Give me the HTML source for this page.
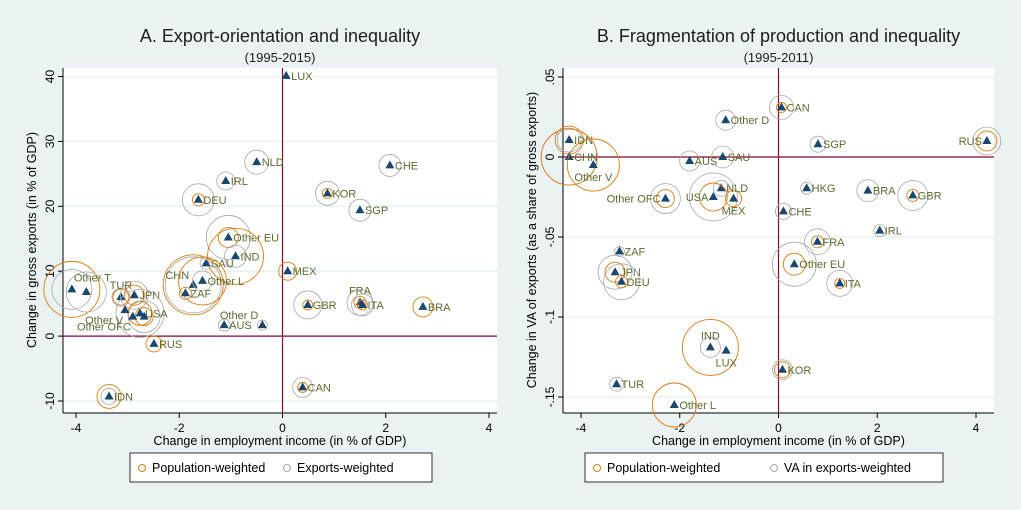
<!DOCTYPE html>
<html><head><meta charset="utf-8">
<style>
body{margin:0;background:#eaf2f3;}
svg{display:block;font-family:"Liberation Sans",Arial,sans-serif;}
</style></head>
<body>
<svg id="c" width="1021" height="510"></svg>
<script>
// Panel A data
const namesA=["LUX","NLD","IRL","DEU","KOR","CHE","SGP","Other EU","IND","SAU","MEX","CHN","Other L","ZAF","Other T","","TUR","JPN","USA","","Other V","Other OFC","AUS","Other D","GBR","FRA","ITA","BRA","RUS","CAN","IDN"];
const xA=[0.07,-0.5,-1.1,-1.63,0.87,2.08,1.5,-1.05,-0.91,-1.48,0.1,-1.73,-1.55,-1.88,-4.08,-3.8,-3.13,-2.87,-2.76,-2.68,-3.05,-2.9,-1.13,-0.39,0.49,1.5,1.55,2.72,-2.49,0.39,-3.36];
const yA=[40.1,26.8,23.9,21,22,26.3,19.4,15.2,12.3,11.2,10,7.9,8.5,6.6,7.2,6.8,6,6.3,3.5,3,4,3,1.7,1.7,4.8,5.2,4.8,4.5,-1.2,-7.9,-9.3];
const popA=[0,0,0,6,5,0,0,10,28,0,9,30,24,6,28,0,8,10,12,9,0,0,0,0,5,6,5,10,8,5,12];
const expA=[0,12,9,16,12,11,11,22,11,6,0,28,10,0,20,20,9,14,24,16,0,0,6,5,14,13,11,0,0,10,8];
const posA=["r","r","r","r","r","r","r","r","r","r","r","tl","r","r","tr","","t","r","r","","bl","bl","r","tl","r","t","r","r","r","r","r"];
// Panel B data
const namesB=["CAN","Other D","IDN","CHN","Other V","RUS","SGP","AUS","SAU","NLD","USA","MEX","Other OFC","HKG","BRA","GBR","CHE","IRL","FRA","Other EU","ITA","ZAF","JPN","DEU","IND","LUX","KOR","TUR","Other L"];
const xB=[0.06,-1.07,-4.24,-4.24,-3.75,4.22,0.8,-1.8,-1.13,-1.16,-1.32,-0.91,-2.29,0.57,1.81,2.72,0.1,2.05,0.79,0.32,1.24,-3.22,-3.31,-3.18,-1.38,-1.06,0.08,-3.28,-2.11];
const yB=[0.031,0.023,0.0106,0,-0.005,0.01,0.008,-0.0025,0,-0.0195,-0.025,-0.026,-0.026,-0.0195,-0.021,-0.024,-0.034,-0.046,-0.053,-0.067,-0.079,-0.059,-0.072,-0.078,-0.119,-0.121,-0.133,-0.142,-0.155];
const popB=[5,0,14,28,26,10,0,0,0,0,14,8,9,0,0,6,0,0,6,11,5,0,10,6,28,0,8,0,22];
const expB=[12,10,12,28,0,14,8,10,11,8,24,0,15,6,11,15,8,6,13,22,13,5,17,18,10,0,10,7,0];
const posB=["r","r","r","r","b","l","r","r","r","r","l","b","l","r","r","r","r","r","r","r","r","r","r","r","t","b","r","r","r"];

const NS="http://www.w3.org/2000/svg";
const svg=document.getElementById('c');
function mk(tag,attrs,parent,text){const e=document.createElementNS(NS,tag);for(const k in attrs)e.setAttribute(k,attrs[k]);if(text!==undefined)e.textContent=text;(parent||svg).appendChild(e);return e;}

function panel(cfg){
  const g=mk('g',{});
  
  
  const sx=v=>cfg.x0+(v-cfg.xmin)*(cfg.x1-cfg.x0)/(cfg.xmax-cfg.xmin);
  const sy=v=>cfg.y1-(v-cfg.ymin)*(cfg.y1-cfg.y0)/(cfg.ymax-cfg.ymin);
  const t=mk('text',{x:(cfg.px0+cfg.px1)/2,y:42,'text-anchor':'middle','font-size':18,fill:'#1e1e1e'},g,cfg.title);
  
  const st=mk('text',{x:(cfg.px0+cfg.px1)/2,y:62,'text-anchor':'middle','font-size':13,fill:'#1e1e1e'},g,cfg.sub);
  
  const pa=mk('rect',{x:cfg.px0,y:68,width:cfg.px1-cfg.px0,height:345,fill:'#fff'},g);
  
  cfg.yticks.forEach((v,i)=>{
    const y=sy(v);
    const gl=mk('line',{x1:cfg.px0,x2:cfg.px1,y1:y,y2:y,stroke:'#eaf2f3','stroke-width':1.5},g);
    
    mk('line',{x1:cfg.px0-5,x2:cfg.px0,y1:y,y2:y,stroke:'#000'},g);
    const tl=mk('text',{x:cfg.px0-9,y:y,'text-anchor':'middle','font-size':12,fill:'#000',transform:`rotate(-90 ${cfg.px0-9} ${y})`},g,cfg.ylabels[i]);
    
  });
  cfg.xticks.forEach((v,i)=>{
    const x=sx(v);
    mk('line',{x1:x,x2:x,y1:413,y2:418,stroke:'#000'},g);
    const tl=mk('text',{x:x,y:432,'text-anchor':'middle','font-size':12,fill:'#000'},g,cfg.xlabels[i]);
    
  });
  mk('line',{x1:cfg.px0,x2:cfg.px0,y1:68,y2:413,stroke:'#000'},g);
  mk('line',{x1:cfg.px0,x2:cfg.px1,y1:413,y2:413,stroke:'#000'},g);
  const xt=mk('text',{x:(cfg.px0+cfg.px1)/2,y:445,'text-anchor':'middle','font-size':12.5,fill:'#000'},g,'Change in employment income (in % of GDP)');
  
  const yt=mk('text',{x:cfg.ytx,y:240,'text-anchor':'middle','font-size':12.5,fill:'#000',transform:`rotate(-90 ${cfg.ytx} 240)`},g,cfg.ytitle);
  
  const zx=sx(0),zy=sy(0);
  const vl=mk('line',{x1:zx,x2:zx,y1:68,y2:413,stroke:'#8b0a30','stroke-width':1.2},g);
  
  const hl=mk('line',{x1:cfg.px0,x2:cfg.px1,y1:zy,y2:zy,stroke:'#8b0a30','stroke-width':1.2},g);
  
  cfg.names.forEach((n,i)=>{
    const x=sx(cfg.xs[i]),y=sy(cfg.ys[i]);
    if(cfg.exp[i]>0){const c=mk('circle',{cx:x,cy:y,r:cfg.exp[i],fill:'none',stroke:'#a8a8a8','stroke-width':0.8},g);
      }
    if(cfg.pop[i]>0){const c=mk('circle',{cx:x,cy:y,r:cfg.pop[i],fill:'none',stroke:'#e07c10','stroke-width':0.9},g);
      }
    const tr=mk('path',{d:`M${x},${y-5}L${x+4.5},${y+3}L${x-4.5},${y+3}Z`,fill:'#1a476f'},g);
    
    if(n){
      const p=cfg.pos[i];let lx=x+5,ly=y+4,a='start';
      if(p==='l'){lx=x-5;a='end';} if(p==='tl'){lx=x-4;ly=y-6;a='end';}
      if(p==='tr'){lx=x+2;ly=y-8;a='start';}
      if(p==='t'){lx=x;ly=y-8;a='middle';} if(p==='b'){lx=x;ly=y+16;a='middle';}
      if(p==='bl'){lx=x-2;ly=y+14;a='end';}
      const lt=mk('text',{x:lx,y:ly,'text-anchor':a,'font-size':11,fill:'#5b6b2e'},g,n);
      
    }
  });
  const lg=mk('g',{},g);
  mk('rect',{x:cfg.lx0,y:453,width:cfg.lx1-cfg.lx0,height:29,fill:'#fff',stroke:'#000','stroke-width':0.8},lg);
  mk('circle',{cx:cfg.lx0+12,cy:468,r:3.5,fill:'none',stroke:'#e07c10'},lg);
  const l1=mk('text',{x:cfg.lx0+22,y:472,'font-size':12.5,fill:'#000'},lg,'Population-weighted');
  
  mk('circle',{cx:cfg.lx2,cy:468,r:3.5,fill:'none',stroke:'#a8a8a8'},lg);
  const l2=mk('text',{x:cfg.lx2+10,y:472,'font-size':12.5,fill:'#000'},lg,cfg.leg2);
  
}
panel({id:'panel-a',title:'A. Export-orientation and inequality',sub:'(1995-2015)',px0:63,px1:497,
  x0:76,x1:489,xmin:-4,xmax:4,y0:76.5,y1:401,ymin:-10,ymax:40,
  xticks:[-4,-2,0,2,4],xlabels:['-4','-2','0','2','4'],yticks:[40,30,20,10,0,-10],ylabels:['40','30','20','10','0','-10'],
  ytx:36,ytitle:'Change in gross exports (in % of GDP)',
  names:namesA,xs:xA,ys:yA,pop:popA,exp:expA,pos:posA,lx0:130,lx1:432,lx2:287,leg2:'Exports-weighted'});
panel({id:'panel-b',title:'B. Fragmentation of production and inequality',sub:'(1995-2011)',px0:563,px1:994,
  x0:581,x1:976,xmin:-4,xmax:4,y0:77,y1:397,ymin:-0.15,ymax:0.05,
  xticks:[-4,-2,0,2,4],xlabels:['-4','-2','0','2','4'],yticks:[0.05,0,-0.05,-0.1,-0.15],ylabels:['.05','0','-.05','-.1','-.15'],
  ytx:536,ytitle:'Change in VA of exports (as a share of gross exports)',
  names:namesB,xs:xB,ys:yB,pop:popB,exp:expB,pos:posB,lx0:585,lx1:943,lx2:774,leg2:'VA in exports-weighted'});
</script>
</body></html>
